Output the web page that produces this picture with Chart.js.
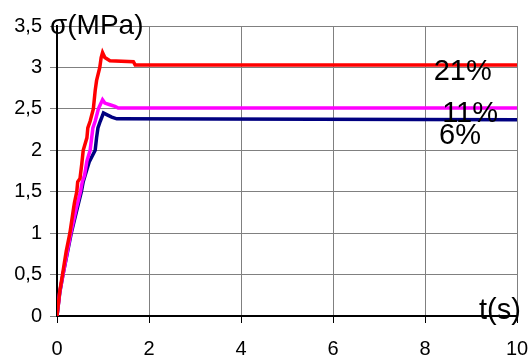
<!DOCTYPE html>
<html>
<head>
<meta charset="utf-8">
<script src="https://cdn.jsdelivr.net/npm/chart.js@4"></script>
<style>
  html, body { margin: 0; padding: 0; background: #fff; }
  #wrap { width: 531px; height: 361px; }
</style>
</head>
<body>
<div id="wrap"><canvas id="graf"></canvas></div>
<script>
// t (s) and sigma (MPa)
const t21 = [0, 0.06, 0.12, 0.2, 0.28, 0.36, 0.38, 0.43, 0.45, 0.5, 0.54, 0.57, 0.65, 0.67, 0.72, 0.79, 0.83, 0.86, 0.93, 0.96, 0.99, 1.04, 1.15, 1.66, 1.7, 10];
const s21 = [0, 0.3, 0.5, 0.78, 1.0, 1.3, 1.37, 1.5, 1.62, 1.66, 1.84, 2.0, 2.15, 2.27, 2.35, 2.5, 2.72, 2.84, 3.0, 3.12, 3.18, 3.12, 3.08, 3.07, 3.03, 3.03];

const t11 = [0, 0.06, 0.13, 0.3, 0.42, 0.51, 0.55, 0.6, 0.65, 0.72, 0.78, 0.83, 0.9, 0.94, 0.99, 1.04, 1.15, 1.26, 1.33, 10];
const s11 = [0, 0.29, 0.5, 1.0, 1.3, 1.5, 1.62, 1.7, 1.87, 2.0, 2.27, 2.35, 2.5, 2.55, 2.61, 2.57, 2.55, 2.53, 2.51, 2.51];

const t6 = [0, 0.06, 0.13, 0.31, 0.44, 0.53, 0.57, 0.64, 0.7, 0.83, 0.86, 0.89, 0.94, 1.01, 1.08, 1.19, 1.3, 10];
const s6 = [0, 0.28, 0.5, 1.0, 1.3, 1.5, 1.62, 1.75, 1.86, 2.0, 2.15, 2.27, 2.35, 2.45, 2.43, 2.4, 2.38, 2.37];

const xTicks = [0, 2, 4, 6, 8, 10];
const yTicks = [0, 0.5, 1, 1.5, 2, 2.5, 3, 3.5];

const etiquetas = [
    { text: "21%", x: 8.82, y: 2.95 },
    { text: "11%", x: 8.98, y: 2.44 },
    { text: "6%", x: 8.76, y: 2.17 },
    { text: "t(s)", x: 9.63, y: 0.06 },
];

const pares = (xs, ys) => xs.map((v, i) => ({ x: v, y: ys[i] }));

const textos = {
    id: "textos",
    afterDatasetsDraw(chart) {
        const c = chart.ctx;
        const sx = chart.scales.x, sy = chart.scales.y;
        c.save();
        c.fillStyle = "#000";
        c.font = "29px 'Liberation Sans', Arial, sans-serif";
        c.textAlign = "center";
        c.textBaseline = "middle";
        etiquetas.forEach(e => {
            c.fillText(e.text, sx.getPixelForValue(e.x), sy.getPixelForValue(e.y));
        });
        c.font = "28px 'Liberation Sans', Arial, sans-serif";
        c.textAlign = "left";
        c.fillText("σ(MPa)", sx.getPixelForValue(0) - 7, sy.getPixelForValue(3.5));
        c.restore();
    }
};

new Chart(document.getElementById("graf"), {
    type: "line",
    data: {
        datasets: [
            { label: "21%", data: pares(t21, s21), borderColor: "#ff0000" },
            { label: "11%", data: pares(t11, s11), borderColor: "#ff00ff" },
            { label: "6%", data: pares(t6, s6), borderColor: "#000080" },
        ]
    },
    options: {
        responsive: true,
        maintainAspectRatio: false,
        animation: false,
        layout: { padding: { top: 26, right: 14, left: 0, bottom: 0 } },
        elements: {
            line: { borderWidth: 3.5, tension: 0, borderCapStyle: "butt" },
            point: { radius: 0 }
        },
        plugins: {
            legend: { display: false },
            tooltip: { enabled: false }
        },
        scales: {
            x: {
                type: "linear",
                min: 0,
                max: 10,
                afterBuildTicks: s => { s.ticks = xTicks.map(v => ({ value: v })); },
                afterFit: s => { s.height = 45; s.paddingLeft = 0; s.paddingRight = 0; },
                grid: { color: "#808080", lineWidth: 1, tickLength: 7, tickColor: "#000" },
                border: { color: "#000", width: 2 },
                ticks: {
                    color: "#000",
                    padding: 14,
                    maxRotation: 0,
                    font: { family: "'Liberation Sans', Arial, sans-serif", size: 20 },
                    callback: v => String(v)
                }
            },
            y: {
                min: 0,
                max: 3.5,
                afterBuildTicks: s => { s.ticks = yTicks.map(v => ({ value: v })); },
                afterFit: s => { s.width = 57; s.paddingTop = 0; s.paddingBottom = 0; },
                grid: { color: "#808080", lineWidth: 1, tickLength: 7, tickColor: "#808080" },
                border: { color: "#000", width: 2 },
                ticks: {
                    color: "#000",
                    padding: 8,
                    font: { family: "'Liberation Sans', Arial, sans-serif", size: 20 },
                    callback: v => String(v).replace(".", ",")
                }
            }
        }
    },
    plugins: [textos]
});
</script>
</body>
</html>
